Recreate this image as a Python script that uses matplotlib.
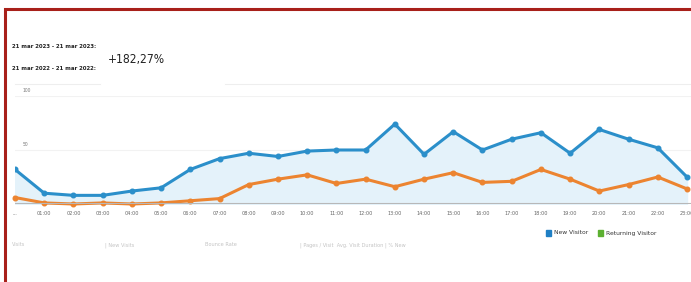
import matplotlib.pyplot as plt
import matplotlib.font_manager as fm
from matplotlib.patches import Rectangle

hours = ["...", "01:00", "02:00", "03:00", "04:00", "05:00", "06:00", "07:00",
         "08:00", "09:00", "10:00", "11:00", "12:00", "13:00", "14:00", "15:00",
         "16:00", "17:00", "18:00", "19:00", "20:00", "21:00", "22:00", "23:00"]
new_visitor = [32, 10, 8, 8, 12, 15, 32, 42, 47, 44, 49, 50,
               50, 74, 46, 67, 50, 60, 66, 47, 69, 60, 52, 25]
returning_visitor = [6, 1, 0, 1, 0, 1, 3, 5, 18, 23, 27, 19,
                     23, 16, 23, 29, 20, 21, 32, 23, 12, 18, 25, 14]
y_ticks = [50, 100]

# cerco un font stretto, altrimenti DejaVu Sans
narrow = None
for f in fm.fontManager.ttflist:
    if "narrow" in f.name.lower() or "condensed" in f.name.lower():
        narrow = f.name
        break
    if str(f.stretch) in ("condensed", "semi-condensed", "extra-condensed") \
            or (isinstance(f.stretch, int) and f.stretch < 500):
        narrow = f.name
        break
if narrow is None:
    narrow = "DejaVu Sans"
k = 1.0 if narrow != "DejaVu Sans" else 0.72

W, H = 691, 282
fig = plt.figure(figsize=(W / 100, H / 100), dpi=100)
fig.patch.set_facecolor("white")

# cornice rossa (visibile solo in alto e a sinistra)
fig.patches.append(Rectangle((5 / W, -0.1), 1.2, 1 - 9 / H + 0.1,
                             transform=fig.transFigure, fill=False,
                             edgecolor="#a8201a", linewidth=2.2))

fig.text(12 / W, 1 - 47 / H, "21 mar 2023 - 21 mar 2023:", family=narrow,
         fontsize=6 * k, weight="bold", color="#222222", va="center",
         fontstretch="condensed")
fig.text(12 / W, 1 - 68 / H, "21 mar 2022 - 21 mar 2022:", family=narrow,
         fontsize=6 * k, weight="bold", color="#222222", va="center",
         fontstretch="condensed")
fig.text(108 / W, 1 - 60 / H, "+182,27%", family=narrow,
         fontsize=12 * k, color="#222222", va="center",
         fontstretch="condensed")

# separatori grigi chiari
fig.lines.append(plt.Line2D([15 / W, 100 / W], [1 - 84 / H] * 2,
                            transform=fig.transFigure, color="#eeeeee", lw=0.8))
fig.lines.append(plt.Line2D([225 / W, 1], [1 - 84 / H] * 2,
                            transform=fig.transFigure, color="#eeeeee", lw=0.8))

left, right = 15 / W, 1.0
bottom, top = 1 - 204 / H, 1 - 96 / H
ax = fig.add_axes([left, bottom, right - left, top - bottom])
ax.set_facecolor("none")

x = list(range(len(hours)))
step = (687 - 15) / 23
ax.set_xlim(0, 23 + (W - 687) / step)
ax.set_ylim(0, 100)

for yt in y_ticks:
    ax.axhline(yt, color="#f2f2f2", lw=0.8, zorder=0)
    ax.text(0.25, yt + 3, str(yt), fontsize=4.5 * k, color="#777777",
            family=narrow, va="bottom", ha="left")

ax.fill_between(x, new_visitor, 0, color="#e4f2fa", zorder=1)
ax.plot(x, new_visitor, color="#2b8fca", lw=2.2, marker="o", ms=3.3,
        zorder=3, clip_on=True)
ax.plot(x, returning_visitor, color="#ec8430", lw=2.2, marker="o", ms=3.3,
        zorder=2, clip_on=False)
ax.axhline(0, color="#b8b8b8", lw=1.5, zorder=2)

for s in ax.spines.values():
    s.set_visible(False)
ax.set_yticks([])
ax.set_xticks(x)
ax.set_xticklabels(hours, fontsize=5 * k, color="#666666", family=narrow)
ax.tick_params(axis="x", length=0, pad=5)

# legenda
fig.patches.append(Rectangle((546 / W, 1 - 236 / H), 5 / W, 6 / H,
                             transform=fig.transFigure, color="#1f7fc4"))
fig.text(554 / W, 1 - 233 / H, "New Visitor", family=narrow, fontsize=6 * k,
         color="#333333", va="center")
fig.patches.append(Rectangle((598 / W, 1 - 236 / H), 5 / W, 6 / H,
                             transform=fig.transFigure, color="#5cb031"))
fig.text(606 / W, 1 - 233 / H, "Returning Visitor", family=narrow,
         fontsize=6 * k, color="#333333", va="center")

# testo sbiadito sotto il grafico
for xp, t in [(12, "Visits"), (105, "| New Visits"), (205, "Bounce Rate"),
              (300, "| Pages / Visit  Avg. Visit Duration | % New")]:
    fig.text(xp / W, 1 - 245 / H, t, family=narrow, fontsize=5 * k,
             color="#c4c4c4", va="center")

fig.savefig("out.png", dpi=100)
